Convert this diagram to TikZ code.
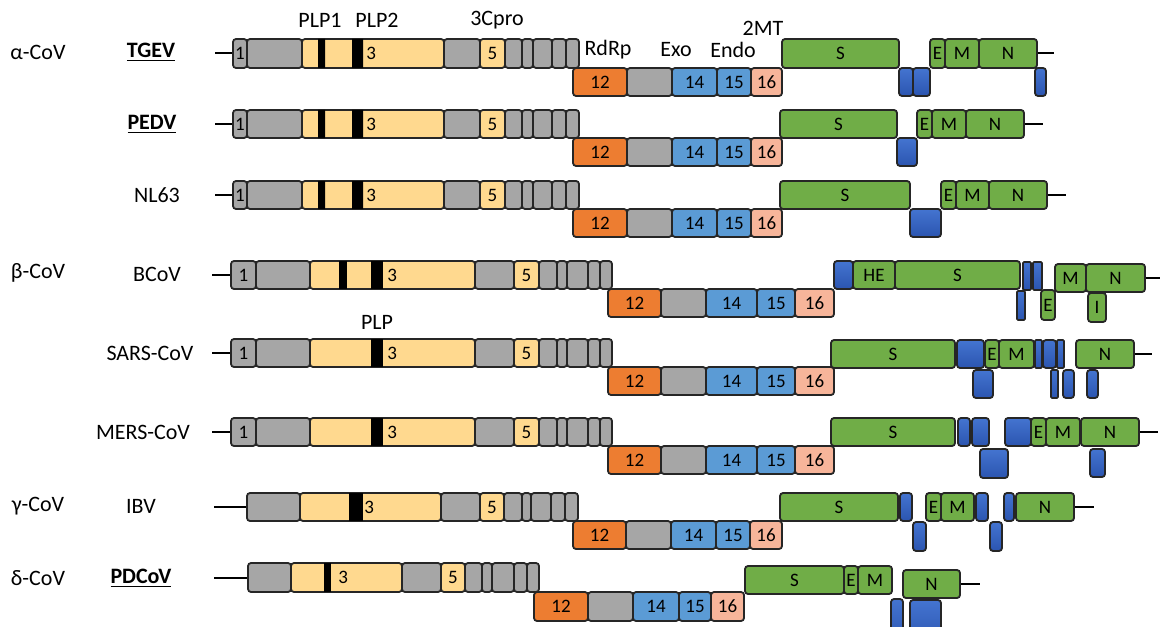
\documentclass[tikz,border=0pt]{standalone}
\usepackage{fontspec}
\setmainfont{Carlito}
\definecolor{nspgrey}{HTML}{A6A6A6}
\definecolor{plpyellow}{HTML}{FFD98F}
\definecolor{rdrporange}{HTML}{ED7D31}
\definecolor{exoblue}{HTML}{5B9BD5}
\definecolor{mtpink}{HTML}{F7B59A}
\definecolor{spikegreen}{HTML}{70AD47}
\definecolor{orfblue}{HTML}{4474D0}
\definecolor{orfdark}{HTML}{2B55B0}
% one genome segment: name, x from, x to, y from, y to, kind, text
\newcommand{\gbox}[7]{\node[seg,#6,minimum width={(#3-#2)*0.5pt},minimum height={(#5-#4)*0.5pt}] (#1) at ({(#2+#3)/2},{(#4+#5)/2}) {#7};}
\begin{document}
\begin{tikzpicture}[x=0.5pt, y=-0.5pt,
		seg/.style={draw=black!85, line width=0.9pt, rounded corners=1.5pt, inner sep=0pt, font=\fontsize{9.5}{10}\selectfont},
		nsp/.style={fill=nspgrey},
		plp/.style={fill=plpyellow},
		rdrp/.style={fill=rdrporange},
		exon/.style={fill=exoblue},
		mt/.style={fill=mtpink},
		spk/.style={fill=spikegreen},
		orf/.style={top color=orfblue, bottom color=orfdark},
		thinorf/.style={orf, rounded corners=0.6pt},
		lab/.style={font=\fontsize{11}{12}\selectfont},
		num/.style={font=\fontsize{9.5}{10}\selectfont, inner sep=0pt, anchor=west},
		stub/.style={line width=1pt}]
	\useasboundingbox (0,0) rectangle (1161,626);

	% genus and virus names
	\node[lab] (alpha) at (38,52) {α-CoV};
	\node[lab] (beta) at (38,273) {β-CoV};
	\node[lab] (gamma) at (38,506) {γ-CoV};
	\node[lab] (delta) at (38,578) {δ-CoV};
	\node[lab] (tgev) at (151,52) {\underline{\textbf{TGEV}}};
	\node[lab] (pedv) at (152,124) {\underline{\textbf{PEDV}}};
	\node[lab] (nl63) at (157,195) {NL63};
	\node[lab] (bcov) at (157,274) {BCoV};
	\node[lab] (sars) at (150,353) {SARS-CoV};
	\node[lab] (mers) at (143,432) {MERS-CoV};
	\node[lab] (ibv) at (141,506) {IBV};
	\node[lab] (pdcov) at (141,578) {\underline{\textbf{PDCoV}}};

	% domain names
	\node[lab] (plp1) at (320,20) {PLP1};
	\node[lab] (plp2) at (377,20) {PLP2};
	\node[lab] (cpro) at (497,20) {3Cpro};
	\node[lab] (rdrp) at (608,50) {RdRp};
	\node[lab] (exo) at (676,50) {Exo};
	\node[lab] (endo) at (733,50) {Endo};
	\node[lab] (mtase) at (763,28) {2MT};
	\node[lab] (plp) at (377,322) {PLP};

	% alpha rows, ORF1a and ORF1b
	\foreach \vir/\ya/\yb/\yc in {tgev/39/68/96, pedv/110/138/166, nl63/181/209/237} {
		\foreach \i/\xa/\xb/\kd/\txt in {1/233/247/nsp/1, 2/247/302/nsp/{}, 3/302/444/plp/{}, 4/444/480/nsp/{}, 5/480/505/plp/5, 6/505/522/nsp/{}, 7/522/533/nsp/{}, 8/533/552/nsp/{}, 9/552/566/nsp/{}, 10/566/579/nsp/{}}
			{\gbox{\vir-\i}{\xa}{\xb}{\ya}{\yb}{\kd}{\txt}}
		\fill (318,\ya) rectangle (325,\yb) (352,\ya) rectangle (363,\yb);
		\node[num] (\vir-3t) at (366,{(\ya+\yb)/2}) {3};
		\coordinate (\vir-start) at (215,{(\ya+\yb)/2});
		\draw[stub] (\vir-start) -- (\vir-1);
		\foreach \i/\xa/\xb/\kd/\txt in {12/573/627/rdrp/12, 13/627/672/nsp/{}, 14/672/717/exon/14, 15/717/751/exon/15, 16/751/782/mt/16}
			{\gbox{\vir-\i}{\xa}{\xb}{\yb}{\yc}{\kd}{\txt}}
	}

	% beta rows
	\foreach \vir/\ya/\yb/\yc in {bcov/261/289/317, sars/339/367/395, mers/418/446/474} {
		\foreach \i/\xa/\xb/\kd/\txt in {1/231/256/nsp/1, 2/256/310/nsp/{}, 3/310/475/plp/{}, 4/475/514/nsp/{}, 5/514/539/plp/5, 6/539/557/nsp/{}, 7/557/567/nsp/{}, 8/567/588/nsp/{}, 9/588/600/nsp/{}, 10/600/612/nsp/{}}
			{\gbox{\vir-\i}{\xa}{\xb}{\ya}{\yb}{\kd}{\txt}}
		\fill (371,\ya) rectangle (383,\yb);
		\node[num] (\vir-3t) at (387,{(\ya+\yb)/2}) {3};
		\coordinate (\vir-start) at (212,{(\ya+\yb)/2});
		\draw[stub] (\vir-start) -- (\vir-1);
		\foreach \i/\xa/\xb/\kd/\txt in {12/608/661/rdrp/12, 13/661/706/nsp/{}, 14/706/757/exon/14, 15/757/795/exon/15, 16/795/834/mt/16}
			{\gbox{\vir-\i}{\xa}{\xb}{\yb}{\yc}{\kd}{\txt}}
	}
	\fill (339,261) rectangle (347,289);

	% gamma row
	\foreach \i/\xa/\xb/\kd/\txt in {2/247/300/nsp/{}, 3/300/441/plp/{}, 4/441/480/nsp/{}, 5/480/504/plp/5, 6/504/522/nsp/{}, 7/522/531/nsp/{}, 8/531/551/nsp/{}, 9/551/565/nsp/{}, 10/565/578/nsp/{}}
		{\gbox{ibv-\i}{\xa}{\xb}{493}{521}{\kd}{\txt}}
	\fill (349,493) rectangle (363,521);
	\node[num] (ibv-3t) at (364,507) {3};
	\coordinate (ibv-start) at (214,507);
	\draw[stub] (ibv-start) -- (ibv-2);
	\foreach \i/\xa/\xb/\kd/\txt in {12/573/626/rdrp/12, 13/626/671/nsp/{}, 14/671/716/exon/14, 15/716/750/exon/15, 16/750/782/mt/16}
		{\gbox{ibv-\i}{\xa}{\xb}{521}{549}{\kd}{\txt}}

	% delta row
	\foreach \i/\xa/\xb/\kd/\txt in {2/248/291/nsp/{}, 3/291/402/plp/{}, 4/402/441/nsp/{}, 5/441/465/plp/5, 6/465/482/nsp/{}, 7/482/492/nsp/{}, 8/492/514/nsp/{}, 9/514/527/nsp/{}, 10/527/539/nsp/{}}
		{\gbox{pdcov-\i}{\xa}{\xb}{563}{592}{\kd}{\txt}}
	\fill (324,563) rectangle (331,592);
	\node[num] (pdcov-3t) at (338,577.5) {3};
	\coordinate (pdcov-start) at (214,577.5);
	\draw[stub] (pdcov-start) -- (pdcov-2);
	\foreach \i/\xa/\xb/\kd/\txt in {12/534/588/rdrp/12, 13/588/633/nsp/{}, 14/633/679/exon/14, 15/679/711/exon/15, 16/711/744/mt/16}
		{\gbox{pdcov-\i}{\xa}{\xb}{592}{621}{\kd}{\txt}}

	% structural and accessory genes
	\gbox{tgev-S}{782}{899}{39}{68}{spk}{S}
	\gbox{tgev-a}{899}{913}{68}{96}{orf}{}
	\gbox{tgev-b}{913}{930}{68}{96}{orf}{}
	\gbox{tgev-E}{930}{945}{39}{68}{spk}{E}
	\gbox{tgev-M}{945}{979}{39}{68}{spk}{M}
	\gbox{tgev-N}{979}{1037}{39}{68}{spk}{N}
	\gbox{tgev-c}{1035}{1046}{68}{96}{orf}{}
	\coordinate (tgev-end) at (1054,53.5);
	\draw[stub] (tgev-N) -- (tgev-end);

	\gbox{pedv-S}{780}{897}{110}{138}{spk}{S}
	\gbox{pedv-a}{897}{917}{138}{166}{orf}{}
	\gbox{pedv-E}{917}{932}{110}{138}{spk}{E}
	\gbox{pedv-M}{932}{966}{110}{138}{spk}{M}
	\gbox{pedv-N}{966}{1024}{110}{138}{spk}{N}
	\coordinate (pedv-end) at (1043,124);
	\draw[stub] (pedv-N) -- (pedv-end);

	\gbox{nl63-S}{780}{910}{181}{209}{spk}{S}
	\gbox{nl63-a}{910}{941}{209}{237}{orf}{}
	\gbox{nl63-E}{941}{956}{181}{209}{spk}{E}
	\gbox{nl63-M}{956}{989}{181}{209}{spk}{M}
	\gbox{nl63-N}{989}{1047}{181}{209}{spk}{N}
	\coordinate (nl63-end) at (1066,195);
	\draw[stub] (nl63-N) -- (nl63-end);

	\gbox{bcov-a}{834}{853}{261}{289}{orf}{}
	\gbox{bcov-HE}{853}{895}{261}{289}{spk}{HE}
	\gbox{bcov-S}{895}{1020}{261}{289}{spk}{S}
	\gbox{bcov-b}{1023}{1031}{262}{290}{thinorf}{}
	\gbox{bcov-c}{1033}{1042}{262}{290}{thinorf}{}
	\gbox{bcov-d}{1017}{1025}{291}{320}{thinorf}{}
	\gbox{bcov-E}{1041}{1055}{290}{320}{spk}{E}
	\gbox{bcov-M}{1055}{1086}{264}{292}{spk}{M}
	\gbox{bcov-N}{1086}{1145}{264}{292}{spk}{N}
	\gbox{bcov-I}{1088}{1106}{293}{322}{spk}{I}
	\coordinate (bcov-end) at (1160,278);
	\draw[stub] (bcov-N) -- (bcov-end);

	\gbox{sars-S}{831}{955}{340}{368}{spk}{S}
	\gbox{sars-a}{957}{984}{340}{368}{orf}{}
	\gbox{sars-E}{985}{999}{340}{368}{spk}{E}
	\gbox{sars-M}{999}{1034}{340}{368}{spk}{M}
	\gbox{sars-b}{1035}{1042}{340}{368}{thinorf}{}
	\gbox{sars-c}{1043}{1056}{340}{368}{orf}{}
	\gbox{sars-d}{1057}{1064}{340}{368}{thinorf}{}
	\gbox{sars-N}{1076}{1134}{340}{368}{spk}{N}
	\gbox{sars-e}{973}{993}{370}{398}{orf}{}
	\gbox{sars-f}{1051}{1058}{370}{398}{thinorf}{}
	\gbox{sars-g}{1063}{1074}{370}{398}{orf}{}
	\gbox{sars-h}{1087}{1098}{370}{398}{orf}{}
	\coordinate (sars-end) at (1152,354);
	\draw[stub] (sars-N) -- (sars-end);

	\gbox{mers-S}{831}{955}{418}{446}{spk}{S}
	\gbox{mers-a}{958}{970}{418}{446}{orf}{}
	\gbox{mers-b}{972}{989}{418}{446}{orf}{}
	\gbox{mers-c}{980}{1008}{449}{478}{orf}{}
	\gbox{mers-d}{1005}{1031}{418}{446}{orf}{}
	\gbox{mers-E}{1031}{1046}{418}{446}{spk}{E}
	\gbox{mers-M}{1046}{1080}{418}{446}{spk}{M}
	\gbox{mers-N}{1081}{1139}{418}{446}{spk}{N}
	\gbox{mers-e}{1090}{1105}{449}{477}{orf}{}
	\coordinate (mers-end) at (1158,432);
	\draw[stub] (mers-N) -- (mers-end);

	\gbox{ibv-S}{780}{898}{493}{521}{spk}{S}
	\gbox{ibv-a}{900}{912}{493}{521}{orf}{}
	\gbox{ibv-b}{913}{926}{522}{551}{orf}{}
	\gbox{ibv-E}{926}{941}{493}{521}{spk}{E}
	\gbox{ibv-M}{941}{974}{493}{521}{spk}{M}
	\gbox{ibv-c}{976}{988}{493}{521}{orf}{}
	\gbox{ibv-d}{990}{1002}{522}{551}{orf}{}
	\gbox{ibv-e}{1004}{1014}{493}{521}{orf}{}
	\gbox{ibv-N}{1016}{1074}{493}{521}{spk}{N}
	\coordinate (ibv-end) at (1094,507);
	\draw[stub] (ibv-N) -- (ibv-end);

	\gbox{pdcov-S}{745}{844}{566}{594}{spk}{S}
	\gbox{pdcov-E}{844}{858}{566}{594}{spk}{E}
	\gbox{pdcov-M}{858}{892}{566}{594}{spk}{M}
	\gbox{pdcov-N}{903}{960}{570}{598}{spk}{N}
	\gbox{pdcov-a}{891}{903}{599}{645}{orf}{}
	\gbox{pdcov-b}{910}{941}{600}{645}{orf}{}
	\coordinate (pdcov-end) at (980,584);
	\draw[stub] (pdcov-N) -- (pdcov-end);
\end{tikzpicture}
\end{document}
